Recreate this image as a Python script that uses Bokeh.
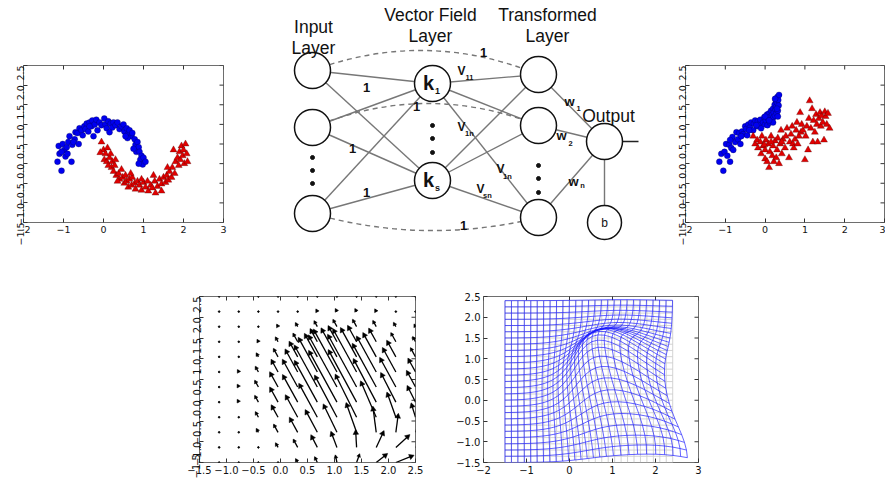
import math
import numpy as np
from bokeh.plotting import figure
from bokeh.models import Range1d, FixedTicker, Spacer
from bokeh.layouts import row, column
from bokeh.core.properties import value
from bokeh.embed import file_html
from bokeh.resources import INLINE

# ------------------------------------------------------------------ data
# two-moons input data (left scatter)
BLUE_IN_X = [-1.10, -1.15, -1.05, -1.12, -1.02, -0.98, -1.05, -0.92, -0.88, -0.95, -0.80, -0.85, -0.78, -0.72,
             -0.70, -0.65, -0.75, -0.60, -0.55, -0.52, -0.48, -0.42, -0.45, -0.38, -0.35, -0.30, -0.28, -0.22,
             -0.18, -0.15, -0.10, -0.05, 0.02, 0.05, 0.08, 0.12, 0.18, 0.22, 0.25, 0.30, 0.35, 0.40, 0.45,
             0.50, 0.52, 0.58, 0.62, 0.65, 0.70, 0.72, 0.78, 0.80, 0.85, 0.88, 0.82, 0.90, 0.95, 0.92, 1.00,
             0.98, 0.88, 1.05, 0.60, 0.55, 0.75, -0.25, -0.62, -0.90, -0.35, 0.15]
BLUE_IN_Y = [0.25, 0.05, -0.18, 0.45, 0.50, 0.35, 0.30, 0.42, 0.55, 0.18, 0.05, 0.70, 0.48, 0.62,
             0.80, 0.78, 0.55, 0.90, 0.85, 0.72, 0.95, 1.02, 0.88, 0.82, 1.05, 0.95, 1.10, 1.00,
             1.12, 0.85, 1.05, 0.98, 1.15, 1.00, 0.90, 1.08, 1.02, 0.92, 1.05, 0.98, 1.05, 0.88, 0.95,
             1.00, 0.82, 0.90, 0.75, 0.85, 0.70, 0.78, 0.62, 0.48, 0.55, 0.42, 0.30, 0.30, 0.20, 0.10, 0.15,
             -0.02, 0.00, 0.05, 0.65, 0.70, 0.38, 0.70, 0.50, 0.25, 0.95, 0.80]
RED_IN_X = [-0.05, 0.00, -0.08, 0.05, 0.02, 0.10, 0.08, 0.12, 0.15, 0.20, 0.22, 0.25, 0.28, 0.32, 0.30,
            0.38, 0.40, 0.45, 0.48, 0.52, 0.55, 0.58, 0.62, 0.65, 0.70, 0.72, 0.78, 0.80, 0.85, 0.90,
            0.95, 1.00, 1.05, 1.10, 1.12, 1.18, 1.22, 1.28, 1.30, 1.35, 1.40, 1.45, 1.50, 1.55, 1.58,
            1.62, 1.65, 1.70, 1.72, 1.75, 1.78, 1.80, 1.85, 1.88, 1.90, 1.92, 1.95, 1.98, 2.00, 2.02,
            2.05, 2.08, 2.10, 1.60, 0.35, 0.95, 1.25, 0.18, 1.45, 0.68]
RED_IN_Y = [0.55, 0.35, 0.28, 0.25, 0.10, 0.40, 0.05, -0.05, 0.15, -0.10, 0.05, -0.20, -0.05, -0.30, 0.10,
            -0.25, -0.40, -0.15, -0.35, -0.50, -0.30, -0.45, -0.60, -0.40, -0.55, -0.35, -0.50, -0.65, -0.45, -0.55,
            -0.68, -0.48, -0.60, -0.45, -0.70, -0.55, -0.62, -0.45, -0.75, -0.58, -0.40, -0.52, -0.35, -0.48, -0.30,
            -0.42, -0.20, -0.35, -0.10, 0.35, -0.25, 0.05, 0.15, -0.05, 0.30, 0.10, 0.45, 0.20, 0.35, 0.00,
            0.50, 0.25, 0.05, -0.10, -0.45, -0.40, -0.30, 0.25, -0.70, -0.25]

# transformed data (right scatter)
BLUE_OUT_X = [-1.05, -1.15, -1.10, -1.02, -0.95, -0.98, -0.90, -0.85, -0.88, -0.80, -0.82, -0.75, -0.72, -0.68,
              -0.65, -0.62, -0.58, -0.55, -0.50, -0.48, -0.45, -0.42, -0.38, -0.35, -0.30, -0.28, -0.25, -0.20,
              -0.18, -0.15, -0.12, -0.10, -0.05, -0.02, 0.00, 0.02, 0.05, 0.06, 0.08, 0.10, 0.12, 0.14, 0.15,
              0.17, 0.18, 0.20, 0.21, 0.22, 0.24, 0.25, 0.26, 0.27, 0.28, 0.29, 0.30, 0.31, 0.32, 0.33, 0.34,
              0.35, 0.30, 0.25, 0.20, -0.60, -0.40, 0.00, -0.22, 0.32, 0.10, -0.88]
BLUE_OUT_Y = [-0.18, 0.05, 0.25, 0.30, 0.20, 0.50, 0.48, 0.40, 0.05, 0.35, 0.68, 0.55, 0.80, 0.62,
              0.78, 0.50, 0.82, 0.75, 0.95, 0.88, 0.72, 1.00, 0.92, 1.05, 0.85, 1.02, 1.10, 0.95,
              1.08, 1.00, 1.12, 0.90, 1.05, 1.18, 1.00, 1.10, 1.25, 0.98, 1.15, 1.28, 1.05, 1.20, 1.35,
              1.12, 1.25, 1.40, 1.18, 1.30, 1.50, 1.22, 1.38, 1.60, 1.45, 1.28, 1.55, 1.70, 1.35, 1.62, 1.48,
              1.75, 1.40, 1.65, 1.05, 0.70, 0.85, 1.20, 0.98, 1.20, 1.10, 0.60]
RED_OUT_X = [-0.30, -0.25, -0.20, -0.18, -0.12, -0.10, -0.08, -0.05, 0.00, 0.02, 0.00, 0.05, 0.08, 0.10, 0.12,
             0.15, 0.18, 0.20, 0.22, 0.25, 0.28, 0.30, 0.32, 0.35, 0.38, 0.40, 0.42, 0.45, 0.50, 0.52,
             0.55, 0.60, 0.62, 0.65, 0.68, 0.70, 0.72, 0.75, 0.78, 0.80, 0.82, 0.85, 0.88, 0.90, 0.92,
             0.95, 1.00, 1.02, 1.05, 1.08, 1.10, 1.12, 1.15, 1.18, 1.20, 1.22, 1.25, 1.28, 1.30, 1.32,
             1.35, 1.38, 1.40, 1.42, 1.45, 1.48, 1.50, 1.52, 1.55, 1.58, 1.62, 0.42, 0.15, -0.02]
RED_OUT_Y = [0.70, 0.50, 0.60, 0.40, 0.55, 0.25, 0.70, 0.45, 0.35, 0.60, 0.12, 0.05, 0.50, -0.10, 0.30,
             0.70, 0.20, 0.45, 0.05, 0.58, 0.15, 0.35, 0.65, 0.00, 0.50, 0.85, 0.25, 0.62, 0.40, 0.70,
             0.90, 0.15, 0.55, 0.75, 0.95, 0.50, 0.40, 0.62, 0.85, 1.05, 0.50, 0.70, 1.30, 0.80, 1.00,
             0.85, 0.10, 0.70, 0.95, 0.35, 1.15, 1.60, 0.90, 1.40, 0.55, 1.10, 0.80, 1.25, 1.00, 0.55,
             1.15, 1.30, 0.95, 1.22, 1.05, 0.60, 1.32, 1.20, 1.00, 1.28, 0.90, 0.55, 0.55, 0.48]

# vector-field kernels (centre, vector, width) that shape the field and the warped grid
KERNEL_X = [1.25, 2.0, 2.6]
KERNEL_Y = [0.15, -1.2, -1.7]
KERNEL_U = [-0.55, 0.25, 0.25]
KERNEL_V = [1.3, 0.10, 0.0]
KERNEL_W = [0.8, 0.5, 0.5]
QUIVER_SCALE = 1.0

# tick labels
TICKS_INT = [-2, -1, 0, 1, 2, 3]
LABELS_INT = ["\u22122", "\u22121", "0", "1", "2", "3"]
TICKS_HALF = [-1.5, -1.0, -0.5, 0.0, 0.5, 1.0, 1.5, 2.0, 2.5]
LABELS_HALF = ["\u22121.5", "\u22121.0", "\u22120.5", "0.0", "0.5", "1.0", "1.5", "2.0", "2.5"]

# diagram texts
HEADERS = ["Input", "Layer", "Vector Field", "Layer", "Transformed", "Layer", "Output"]
EDGE_ONES = ["1", "1", "1", "1", "1", "1"]


def field(x, y):
    x = np.asarray(x, dtype=float)
    y = np.asarray(y, dtype=float)
    u = np.zeros_like(x)
    v = np.zeros_like(x)
    for cx, cy, ku, kv, w in zip(KERNEL_X, KERNEL_Y, KERNEL_U, KERNEL_V, KERNEL_W):
        gk = np.exp(-((x - cx) ** 2 + (y - cy) ** 2) / (2 * w * w))
        u += ku * gk
        v += kv * gk
    return u, v


FONT = "DejaVu Sans"
FRAME = "#6e6e6e"
TICKC = "#333333"


def make_fig(xr, yr, fw, fh, bl, br, bt, bb):
    p = figure(x_range=Range1d(*xr), y_range=Range1d(*yr), frame_width=fw, frame_height=fh,
               min_border_left=bl, min_border_right=br, min_border_top=bt, min_border_bottom=bb,
               toolbar_location=None, output_backend="svg")
    p.grid.visible = False
    p.outline_line_color = FRAME
    p.outline_line_width = 1
    return p


def style_axes(p, xr, yr, xt, xl, yt, yl, rot, fs):
    p.xaxis.ticker = FixedTicker(ticks=xt)
    p.xaxis.major_label_overrides = dict(zip(xt, xl))
    p.yaxis.ticker = FixedTicker(ticks=yt)
    p.yaxis.major_label_overrides = dict(zip(yt, yl))
    for ax in p.xaxis + p.yaxis:
        ax.axis_line_color = None
        ax.major_tick_in = 4
        ax.major_tick_out = 0
        ax.major_tick_line_color = TICKC
        ax.minor_tick_line_color = None
        ax.major_label_text_font = FONT
        ax.major_label_text_font_size = fs
        ax.major_label_text_color = "#111111"
        ax.major_label_standoff = 3
    if rot:
        p.yaxis.major_label_orientation = math.pi / 2
    # mirrored inward ticks on top and right edges (half of each dash is clipped by the frame)
    p.scatter(xt, [yr[1]] * len(xt), marker="dash", angle=math.pi / 2, size=8,
              line_color=TICKC, line_width=1)
    p.scatter([xr[1]] * len(yt), yt, marker="dash", size=8, line_color=TICKC, line_width=1)


def moons(p, bx, by, rx, ry):
    p.scatter(bx, by, marker="circle", size=6, fill_color="#0000f0", line_color="#000040",
              line_width=0.5, line_alpha=0.6)
    p.scatter(rx, ry, marker="triangle", size=7, fill_color="#e00000", line_color="#400000",
              line_width=0.5, line_alpha=0.6)


XR_S, YR_S = (-2, 3), (-1.5, 2.5)

# ------------------------------------------------------------------ top left scatter
p_in = make_fig(XR_S, YR_S, 200, 157, 23, 17, 65, 28)
style_axes(p_in, XR_S, YR_S, TICKS_INT, LABELS_INT, TICKS_HALF, LABELS_HALF, True, "9.5px")
moons(p_in, BLUE_IN_X, BLUE_IN_Y, RED_IN_X, RED_IN_Y)

# ------------------------------------------------------------------ top right scatter
p_out = make_fig(XR_S, YR_S, 199, 157, 20, 1, 65, 28)
style_axes(p_out, XR_S, YR_S, TICKS_INT, LABELS_INT, TICKS_HALF, LABELS_HALF, True, "9.5px")
moons(p_out, BLUE_OUT_X, BLUE_OUT_Y, RED_OUT_X, RED_OUT_Y)

# ------------------------------------------------------------------ diagram (page pixel coords)
d = figure(x_range=Range1d(240, 665), y_range=Range1d(250, 0), frame_width=425, frame_height=250,
           min_border=0, x_axis_location=None, y_axis_location=None, toolbar_location=None,
           output_backend="svg")
d.grid.visible = False
d.outline_line_color = None

IN_X, IN_Y = 312, [70, 127, 213]
K_X, K_Y = 432, [83, 180]
T_X, T_Y = 538, [74, 125, 217]
O_X, O_Y = 604, 141
B_X, B_Y = 604, 222
R = 18
GRAY = "#777777"

x0s, y0s, x1s, y1s = [], [], [], []
for iy in IN_Y:
    for ky in K_Y:
        x0s.append(IN_X); y0s.append(iy); x1s.append(K_X); y1s.append(ky)
for ky in K_Y:
    for ty in T_Y:
        x0s.append(K_X); y0s.append(ky); x1s.append(T_X); y1s.append(ty)
for ty in T_Y:
    x0s.append(T_X); y0s.append(ty); x1s.append(O_X); y1s.append(O_Y)
x0s.append(O_X); y0s.append(O_Y); x1s.append(B_X); y1s.append(B_Y)
d.segment(x0s, y0s, x1s, y1s, line_color=GRAY, line_width=1.4)
d.segment([O_X + R], [O_Y], [O_X + 34], [O_Y], line_color="#222222", line_width=1.6)

# dashed identity connections
d.quadratic(x0=[IN_X, IN_X, IN_X], y0=IN_Y, x1=[T_X, T_X, T_X], y1=T_Y,
            cx=[425, 425, 425], cy=[28, 80, 245], line_color=GRAY, line_width=1.4,
            line_dash="5 4")

# nodes
d.circle(x=[IN_X] * 3 + [K_X] * 2 + [T_X] * 3 + [O_X], y=IN_Y + K_Y + T_Y + [O_Y],
         radius=R, fill_color="white", line_color="#111111", line_width=1.5)
d.circle(x=[B_X], y=[B_Y], radius=17, fill_color="white", line_color="#111111", line_width=1.5)

# ellipsis dots
d.scatter(x=[IN_X] * 3 + [K_X] * 3 + [T_X] * 3,
          y=[157, 170, 183, 125, 138, 152, 165, 178, 192],
          size=4, color="#111111")

TF = value("Liberation Sans")
d.text(x=[313, 313, 430, 430, 547, 547, 608],
       y=[26, 47, 14, 35.5, 14, 35.5, 115], text=HEADERS, text_font=TF, text_font_size="17.5px",
       text_align="center", text_baseline="alphabetic", text_color="#111111")
d.text(x=[366, 416, 352, 366, 483, 463], y=[87, 106, 148, 192, 52, 225], text=EDGE_ONES,
       text_font=TF, text_font_size="13px", text_font_style="bold", text_align="center",
       text_baseline="middle", text_color="#111111")
d.text(x=[428, 428], y=[82, 179], text=["k", "k"], text_font=TF, text_font_size="20px",
       text_font_style="bold", text_align="center", text_baseline="middle", text_color="#111111")
d.text(x=[437, 437], y=[90, 187], text=["1", "s"], text_font=TF, text_font_size="9px",
       text_font_style="bold", text_align="center", text_baseline="middle", text_color="#111111")
d.text(x=[604], y=[222], text=["b"], text_font=TF, text_font_size="12px",
       text_align="center", text_baseline="middle", text_color="#111111")
d.text(x=[461, 461, 500, 480], y=[70, 126, 168, 188], text=["V", "V", "V", "V"], text_font=TF,
       text_font_size="12px", text_font_style="bold", text_align="center", text_baseline="middle",
       text_color="#111111")
d.text(x=[469, 469, 507, 487], y=[77, 133, 176, 195], text=["11", "1n", "1n", "sn"], text_font=TF,
       text_font_size="7.5px", text_font_style="bold", text_align="center", text_baseline="middle",
       text_color="#111111")
d.text(x=[569, 561, 573], y=[101, 135, 181], text=["w", "w", "w"], text_font=TF,
       text_font_size="13px", text_font_style="bold", text_align="center", text_baseline="middle",
       text_color="#111111")
d.text(x=[578, 570, 582], y=[108, 143, 185], text=["1", "2", "n"], text_font=TF,
       text_font_size="7.5px", text_font_style="bold", text_align="center", text_baseline="middle",
       text_color="#111111")

# ------------------------------------------------------------------ quiver plot
XR_Q, YR_Q = (-1.5, 2.5), (-1.5, 2.5)
QW, QH = 216, 166
q = make_fig(XR_Q, YR_Q, QW, QH, 24, 35, 46, 16)
style_axes(q, XR_Q, YR_Q, TICKS_HALF, LABELS_HALF, TICKS_HALF, LABELS_HALF, True, "10px")
qg = np.linspace(-1.5, 2.5, 12)
QX, QY = np.meshgrid(qg, qg)
QX = QX.ravel(); QY = QY.ravel()
QU, QV = field(QX, QY)
QU *= QUIVER_SCALE; QV *= QUIVER_SCALE
sx, sy = QW / 4.0, QH / 4.0                      # screen px per data unit
plen = np.hypot(QU * sx, QV * sy)
ang = np.arctan2(QV * sy, QU * sx)
tiny = plen < 2.0
q.scatter(QX[tiny], QY[tiny], size=1.6, color="black")
arr = ~tiny
q.segment(QX[arr], QY[arr], (QX + QU)[arr], (QY + QV)[arr], line_color="black", line_width=1.3)
hs = np.where(plen > 12, 5.5, 3.8)
back = hs * 0.35
q.scatter((QX + QU - np.cos(ang) * back / sx)[arr], (QY + QV - np.sin(ang) * back / sy)[arr],
          marker="triangle", size=hs[arr], angle=(ang - math.pi / 2)[arr],
          fill_color="black", line_color="black", line_width=0.5)

# ------------------------------------------------------------------ warped grid plot
g = make_fig(XR_S, YR_S, 215, 166, 33, 10, 46, 16)
style_axes(g, XR_S, YR_S, TICKS_INT, LABELS_INT, TICKS_HALF, LABELS_HALF, False, "10px")
gv = np.arange(-1.5, 2.41, 0.15)
GX, GY = np.meshgrid(gv, gv)
GU, GV = field(GX, GY)
WX, WY = GX + GU, GY + GV
n = len(gv)
g.multi_line([list(GX[i]) for i in range(n)] + [list(GX[:, j]) for j in range(n)],
             [list(GY[i]) for i in range(n)] + [list(GY[:, j]) for j in range(n)],
             line_color="#c8c8c8", line_width=1, line_alpha=0.8)
g.multi_line([list(WX[i]) for i in range(n)] + [list(WX[:, j]) for j in range(n)],
             [list(WY[i]) for i in range(n)] + [list(WY[:, j]) for j in range(n)],
             line_color="#1a1aff", line_width=0.9, line_alpha=0.75)

# ------------------------------------------------------------------ layout
top = row(column(p_in), column(d), column(p_out))
bottom = row(Spacer(width=175, height=228), column(q), column(g))
layout = column(top, bottom)

open("out.html", "w").write(file_html(layout, INLINE))
